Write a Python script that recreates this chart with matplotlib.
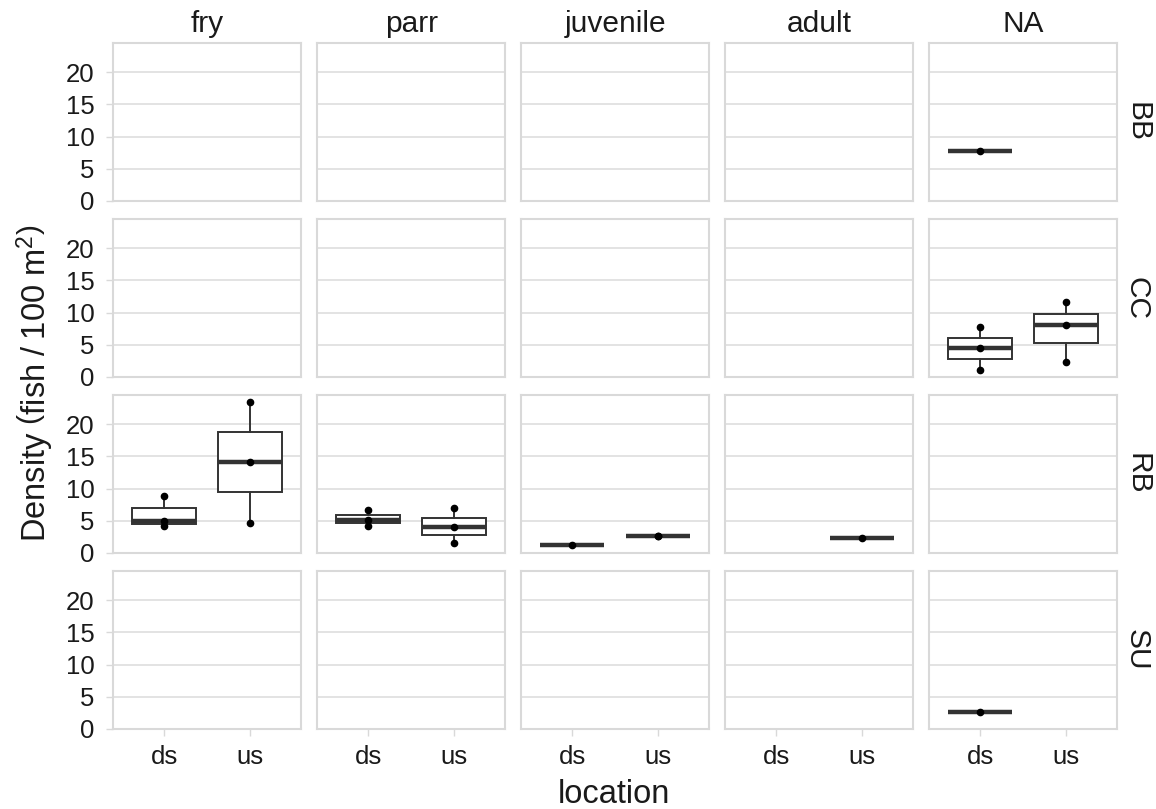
import matplotlib
matplotlib.use("Agg")
import matplotlib.pyplot as plt
import numpy as np

plt.rcParams['font.family'] = ['Liberation Sans', 'DejaVu Sans']
plt.rcParams['mathtext.fontset'] = 'custom'
plt.rcParams['mathtext.rm'] = 'Liberation Sans'
plt.rcParams['mathtext.it'] = 'Liberation Sans:italic'
plt.rcParams['mathtext.bf'] = 'Liberation Sans:bold'

# ---- data ----
life_stages = ["fry", "parr", "juvenile", "adult", "NA"]
sites = ["BB", "CC", "RB", "SU"]
locations = ["ds", "us"]
y_ticks = [0, 5, 10, 15, 20]

# densities (fish / 100 m^2) per site / life stage / location
BB_NA_ds = [7.8]
CC_NA_ds = [1.15, 4.45, 7.7]
CC_NA_us = [2.35, 8.1, 11.6]
RB_fry_ds = [4.2, 4.95, 8.9]
RB_fry_us = [4.65, 14.2, 23.4]
RB_parr_ds = [4.2, 5.15, 6.7]
RB_parr_us = [1.5, 4.0, 7.0]
RB_juvenile_ds = [1.2]
RB_juvenile_us = [2.6, 2.7]
RB_adult_us = [2.4]
SU_NA_ds = [2.6]

groups = {
    ("BB", "NA", "ds"): BB_NA_ds,
    ("CC", "NA", "ds"): CC_NA_ds,
    ("CC", "NA", "us"): CC_NA_us,
    ("RB", "fry", "ds"): RB_fry_ds,
    ("RB", "fry", "us"): RB_fry_us,
    ("RB", "parr", "ds"): RB_parr_ds,
    ("RB", "parr", "us"): RB_parr_us,
    ("RB", "juvenile", "ds"): RB_juvenile_ds,
    ("RB", "juvenile", "us"): RB_juvenile_us,
    ("RB", "adult", "us"): RB_adult_us,
    ("SU", "NA", "ds"): SU_NA_ds,
}

allv = np.concatenate([np.asarray(v, float) for v in groups.values()])
rng = allv.max() - allv.min()
ylo, yhi = allv.min() - 0.05 * rng, allv.max() + 0.05 * rng

W, H = 1156, 809
fig = plt.figure(figsize=(W / 100, H / 100), dpi=100)

x0, col_step, pw = 113.3, 204.0, 187.7
y0, row_step, ph = 43.3, 176.0, 157.7

border_c = '#D9D9D9'
grid_c = '#DEDEDE'
text_c = '#1A1A1A'
box_c = '#333333'

tick_fs = 18.5
strip_fs = 21.5
title_fs = 23.5

for r, site in enumerate(sites):
    for c, stage in enumerate(life_stages):
        left = x0 + c * col_step
        top = y0 + r * row_step
        ax = fig.add_axes([left / W, 1 - (top + ph) / H, pw / W, ph / H])
        ax.set_xlim(0.4, 2.6)
        ax.set_ylim(ylo, yhi)
        ax.set_yticks(y_ticks)
        ax.set_xticks([1, 2])
        ax.set_xticklabels(locations)
        ax.yaxis.grid(True, color=grid_c, lw=1.2, zorder=0)
        ax.xaxis.grid(False)
        ax.set_axisbelow(True)
        for s in ax.spines.values():
            s.set_color(border_c)
            s.set_linewidth(1.5)
        ax.tick_params(axis='both', colors=border_c, labelcolor=text_c,
                       labelsize=tick_fs, length=4.9, width=1.0)
        ax.tick_params(axis='y', pad=8.5)
        ax.tick_params(axis='x', pad=6.5)
        if c != 0:
            ax.tick_params(axis='y', left=False, labelleft=False)
        if r != len(sites) - 1:
            ax.tick_params(axis='x', bottom=False, labelbottom=False)

        for i, loc in enumerate(locations):
            vals = groups.get((site, stage, loc))
            if vals is None:
                continue
            ax.boxplot([vals], positions=[i + 1], widths=0.75, patch_artist=True,
                       showfliers=False, manage_ticks=False,
                       boxprops=dict(facecolor='white', edgecolor=box_c, lw=1.4),
                       whiskerprops=dict(color=box_c, lw=1.4),
                       capprops=dict(visible=False),
                       medianprops=dict(color=box_c, lw=3.2, solid_capstyle='butt'),
                       zorder=2)
            ax.plot([i + 1] * len(vals), vals, 'o', color='black', ms=4.5,
                    mec='black', zorder=3, clip_on=False)

        if r == 0:
            fig.text((left + pw / 2) / W, 1 - 32 / H, stage, ha='center', va='baseline',
                     fontsize=strip_fs, color=text_c)
        if c == len(life_stages) - 1:
            fig.text(1137 / W, 1 - (top + ph / 2) / H, site, ha='center', va='center',
                     rotation=-90, fontsize=strip_fs, color=text_c)

fig.text(35 / W, 1 - 383 / H,
         r'Density $\left(\mathrm{fish}\;/\;100\ \mathrm{m}^{2}\right)$',
         rotation=90, ha='center', va='center', fontsize=title_fs, color=text_c)
fig.text(614 / W, 1 - 803 / H, 'location', ha='center', va='baseline',
         fontsize=title_fs, color=text_c)

fig.savefig('out.png', dpi=100, facecolor='white')
